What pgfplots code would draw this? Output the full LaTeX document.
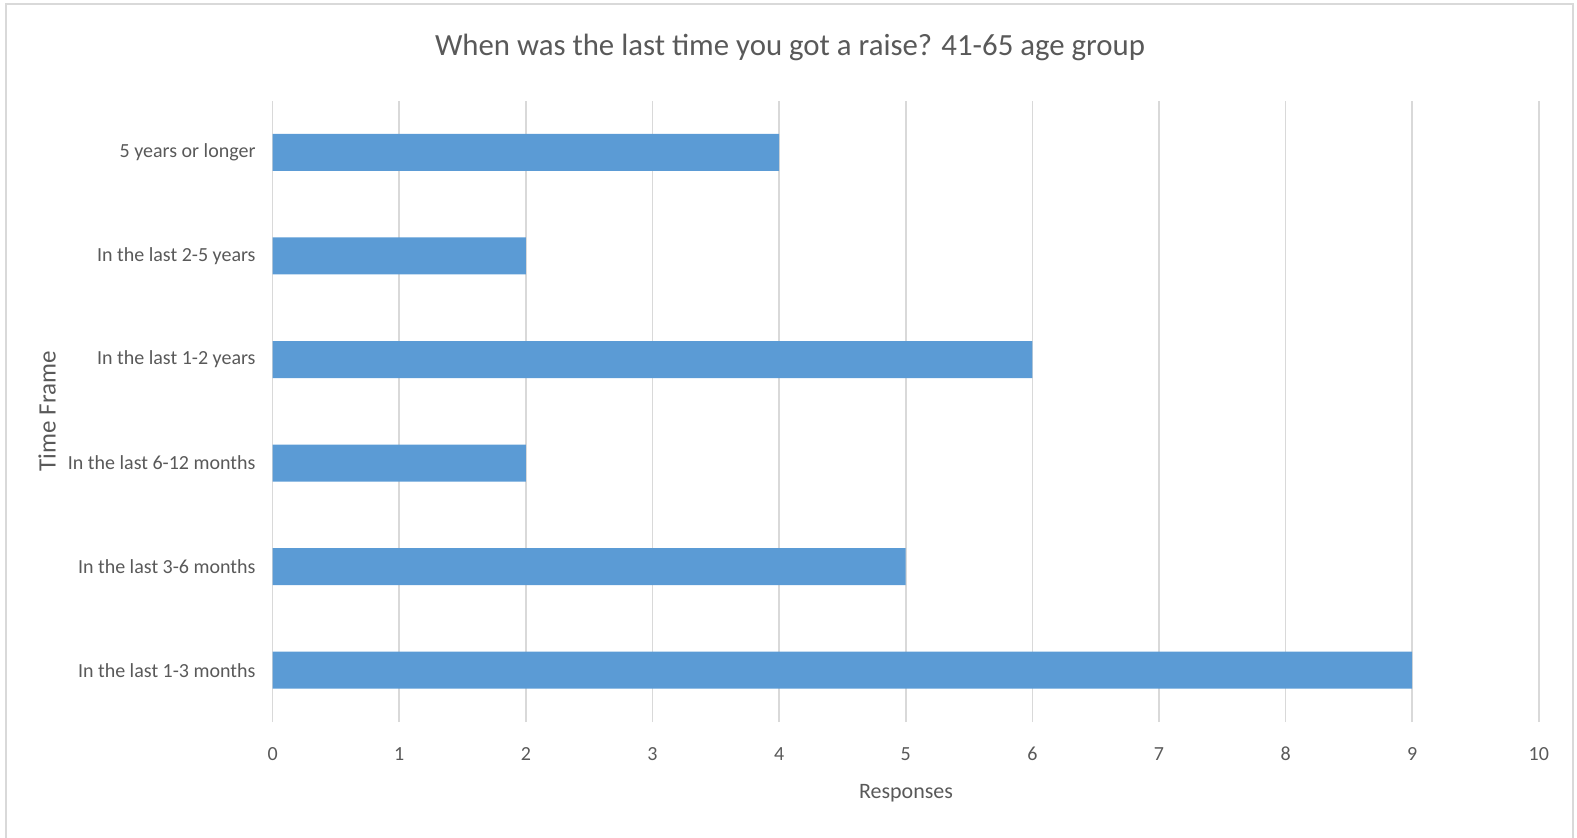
\documentclass[border=0pt]{standalone}
\usepackage{pgfplots}
\pgfplotsset{compat=1.18}
\usepackage{fontspec}
\setmainfont{Carlito}
\definecolor{barblue}{HTML}{5B9BD5}
\definecolor{gridgray}{HTML}{D9D9D9}
\definecolor{txtgray}{HTML}{595959}
\begin{document}
\begin{tikzpicture}
\path[use as bounding box] (0,0) rectangle (788.5pt,418.5pt);
\draw[gridgray, line width=1pt] (3pt,-5pt) rectangle (786.5pt,416.5pt);
\node[txtgray, font=\fontsize{15.4}{18}\selectfont] at (395pt,394.9pt) {When was the last time you got a raise? 41-65 age group};
\node[txtgray, font=\fontsize{11}{13}\selectfont] at (453pt,21.7pt) {Responses};
\node[txtgray, font=\fontsize{12.5}{15}\selectfont, rotate=90] at (23.6pt,212.8pt) {Time Frame};
\begin{axis}[
at={(136.3pt,57.5pt)}, anchor=south west,
scale only axis,
width=633.1pt, height=310.7pt,
xmin=0, xmax=10, ymin=-0.5, ymax=5.5,
xbar, bar width=18.5pt,
axis line style={draw=none},
major tick length=0pt,
xmajorgrids,
grid style={gridgray, line width=0.8pt},
xtick={0,1,...,10},
ytick={0,1,...,5},
yticklabels={In the last 1-3 months, In the last 3-6 months, In the last 6-12 months, In the last 1-2 years, In the last 2-5 years, 5 years or longer},
tick label style={font=\fontsize{10}{12}\selectfont, text=txtgray},
/pgf/number format/assume math mode=true,
xticklabel style={anchor=center, yshift=-16pt},
yticklabel style={xshift=-5pt},
]
\addplot[fill=barblue, draw=none] coordinates {(9,0) (5,1) (2,2) (6,3) (2,4) (4,5)};
\end{axis}
\end{tikzpicture}
\end{document}
